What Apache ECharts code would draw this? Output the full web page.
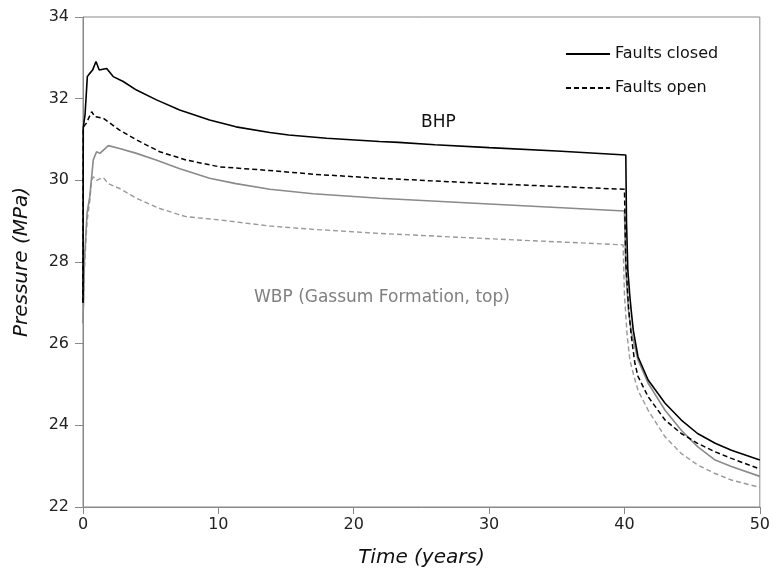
<!DOCTYPE html>
<html><head><meta charset="utf-8">
<script src="https://cdn.jsdelivr.net/npm/echarts@6/dist/echarts.min.js"></script>
<style>html,body{margin:0;padding:0;background:#fff}#c{width:773px;height:575px}</style>
</head><body><div id="c"></div>
<script>
// Time (years) and pressure (MPa) per series
var closedBhpT = [0, 0.02, 0.15, 0.32, 0.5, 0.71, 0.96, 1.2, 1.75, 2.23, 2.97, 3.95, 5.43, 7.14, 9.35, 11.3, 13.8, 15.2, 18, 21.9, 23.3, 26, 30, 35, 40.1, 40.15, 40.25, 40.4, 40.52, 40.65, 41.0, 41.75, 43.0, 44.2, 45.4, 46.7, 47.9, 50];
var closedBhpP = [27.0, 31.3, 31.6, 32.54, 32.62, 32.70, 32.91, 32.70, 32.74, 32.54, 32.42, 32.21, 31.97, 31.72, 31.48, 31.31, 31.17, 31.11, 31.03, 30.95, 30.93, 30.87, 30.80, 30.72, 30.62, 29.0, 27.8, 27.15, 26.74, 26.33, 25.68, 25.11, 24.54, 24.13, 23.80, 23.56, 23.39, 23.15];

var openBhpT = [0, 0.02, 0.25, 0.64, 0.88, 1.5, 2.0, 2.7, 3.95, 5.67, 7.6, 10.1, 13.8, 17, 21.9, 30, 40.0, 40.1, 40.3, 40.5, 40.77, 41.0, 41.75, 43.0, 44.2, 45.4, 46.7, 47.9, 50];
var openBhpP = [27.0, 31.3, 31.4, 31.68, 31.56, 31.52, 31.40, 31.23, 30.99, 30.70, 30.5, 30.33, 30.24, 30.15, 30.05, 29.92, 29.78, 28.0, 26.9, 26.2, 25.52, 25.2, 24.70, 24.13, 23.80, 23.56, 23.35, 23.19, 22.93];

var closedWbpT = [0, 0.1, 0.3, 0.5, 0.76, 1.0, 1.25, 1.87, 2.7, 3.95, 5.4, 7.1, 9.35, 11.3, 13.8, 17, 21.9, 30, 40.0, 40.1, 40.3, 40.5, 40.77, 41.0, 41.75, 43.0, 44.2, 45.4, 46.7, 47.9, 50];
var closedWbpP = [26.5, 28.0, 29.2, 29.6, 30.5, 30.70, 30.66, 30.85, 30.78, 30.66, 30.5, 30.29, 30.05, 29.92, 29.78, 29.67, 29.56, 29.42, 29.25, 27.8, 26.8, 26.3, 25.93, 25.6, 25.03, 24.37, 23.88, 23.48, 23.15, 22.99, 22.75];

var openWbpT = [0, 0.1, 0.3, 0.5, 0.64, 0.76, 1.0, 1.5, 1.87, 2.7, 3.95, 5.67, 7.6, 10.1, 13.8, 17, 21.9, 30, 39.9, 40.0, 40.2, 40.4, 40.7, 41.0, 41.75, 43.0, 44.2, 45.4, 46.7, 47.9, 50];
var openWbpP = [26.5, 27.8, 29.0, 29.5, 30.0, 30.09, 30.0, 30.07, 29.92, 29.80, 29.56, 29.31, 29.11, 29.03, 28.88, 28.8, 28.70, 28.57, 28.42, 27.2, 26.2, 25.6, 25.2, 24.86, 24.37, 23.72, 23.31, 23.03, 22.82, 22.66, 22.48];

var xTicks = [0, 10, 20, 30, 40, 50];
var yTicks = [22, 24, 26, 28, 30, 32, 34];
var legendNames = ['Faults closed', 'Faults open'];

function pairs(t, p) { return t.map(function (v, i) { return [v, p[i]]; }); }

var FONT = 'DejaVu Sans';
var chart = echarts.init(document.getElementById('c'), null, { renderer: 'canvas' });
chart.setOption({
  animation: false,
  backgroundColor: '#fff',
  grid: { left: 83, right: 11, top: 17, bottom: 68, show: true, borderColor: '#888', borderWidth: 1 },
  xAxis: {
    type: 'value', min: xTicks[0], max: xTicks[xTicks.length - 1], interval: 10,
    name: 'Time (years)', nameLocation: 'middle', nameGap: 41,
    nameTextStyle: { fontFamily: FONT, fontSize: 20, fontStyle: 'italic', color: '#111' },
    axisLine: { lineStyle: { color: '#888', width: 1 } },
    axisTick: { show: true, inside: false, length: 7, lineStyle: { color: '#888' } },
    axisLabel: { fontFamily: FONT, fontSize: 16, color: '#222', margin: 10 },
    splitLine: { show: false }
  },
  yAxis: {
    type: 'value', min: yTicks[0], max: yTicks[yTicks.length - 1], interval: 2,
    name: 'Pressure (MPa)', nameLocation: 'middle', nameGap: 51, nameRotate: 90,
    nameTextStyle: { fontFamily: FONT, fontSize: 20, fontStyle: 'italic', color: '#111' },
    axisLine: { show: true, lineStyle: { color: '#888', width: 1 } },
    axisTick: { show: true, inside: false, length: 8, lineStyle: { color: '#888' } },
    axisLabel: { fontFamily: FONT, fontSize: 16, color: '#222', margin: 14 },
    splitLine: { show: false }
  },
  legend: {
    data: legendNames, orient: 'vertical', left: 560, top: 41,
    itemWidth: 44, itemHeight: 14, itemGap: 18,
    itemStyle: { opacity: 0 },
    textStyle: { fontFamily: FONT, fontSize: 16, color: '#111' }
  },
  graphic: [
    { type: 'text', left: 421, top: 114, style: { text: 'BHP', font: '17px "DejaVu Sans"', fill: '#111' } },
    { type: 'text', left: 254, top: 289, style: { text: 'WBP (Gassum Formation, top)', font: '17px "DejaVu Sans"', fill: '#808080' } }
  ],
  series: [
    { name: 'Faults closed', type: 'line', data: pairs(closedBhpT, closedBhpP), showSymbol: false, symbol: 'none',
      lineStyle: { color: '#000', width: 1.6 }, itemStyle: { color: '#000' }, z: 5 },
    { name: 'Faults open', type: 'line', data: pairs(openBhpT, openBhpP), showSymbol: false, symbol: 'none',
      lineStyle: { color: '#000', width: 1.5, type: [5, 3] }, itemStyle: { color: '#000' }, z: 4 },
    { name: 'WBP closed', type: 'line', data: pairs(closedWbpT, closedWbpP), showSymbol: false, symbol: 'none',
      lineStyle: { color: '#8a8a8a', width: 1.6 }, itemStyle: { color: '#8a8a8a' }, z: 3 },
    { name: 'WBP open', type: 'line', data: pairs(openWbpT, openWbpP), showSymbol: false, symbol: 'none',
      lineStyle: { color: '#999', width: 1.4, type: [5, 3] }, itemStyle: { color: '#999' }, z: 2 }
  ]
});
</script></body></html>
